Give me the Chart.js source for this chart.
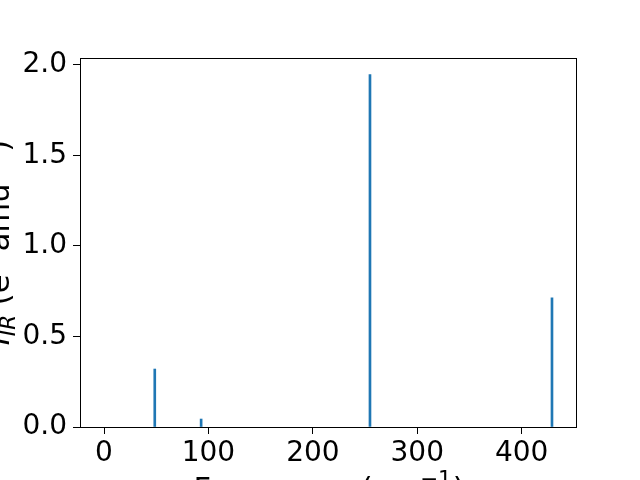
<!DOCTYPE html>
<html><head><meta charset="utf-8">
<script src="https://cdn.jsdelivr.net/npm/chart.js@4/dist/chart.umd.min.js"></script>
<style>html,body{margin:0;padding:0;background:#fff}#wrap{width:640px;height:480px}</style>
</head><body><div id="wrap"><canvas id="c" width="640" height="480"></canvas></div>
<script>
const frequencies = [48.6, 93.0, 254.7, 429.0];
const intensities = [0.32, 0.044, 1.945, 0.713];
const xTicks = [0, 100, 200, 300, 400];
const yTicks = [0.0, 0.5, 1.0, 1.5, 2.0];
const FONT = "'DejaVu Sans', sans-serif";

const framePlugin = {
  id: 'frame',
  afterDraw(chart) {
    const ctx = chart.ctx, a = chart.chartArea;
    ctx.save();
    ctx.strokeStyle = '#000'; ctx.lineWidth = 1;
    ctx.strokeRect(Math.round(a.left) + 0.5, Math.round(a.top) + 0.5, Math.round(a.right - a.left), Math.round(a.bottom - a.top));
    ctx.fillStyle = '#000';
    const big = "30.5px " + FONT, small = "21.5px " + FONT;
    // x label: Frequency (cm^-1)
    const cx = (a.left + a.right) / 2;
    ctx.font = big; const w1 = ctx.measureText("Frequency (cm").width;
    ctx.font = small; const w2 = ctx.measureText("\u22121").width;
    ctx.font = big; const w3 = ctx.measureText(")").width;
    let x0 = cx - (w1 + w2 + w3) / 2, by = 499;
    ctx.textBaseline = 'alphabetic'; ctx.textAlign = 'left';
    ctx.font = big; ctx.fillText("Frequency (cm", x0, by);
    ctx.font = small; ctx.fillText("\u22121", x0 + w1 + 1, by - 13);
    ctx.font = big; ctx.fillText(")", x0 + w1 + w2 + 2, by);
    // y label: I_IR (e^2 amu^-1)
    const cy = (a.top + a.bottom) / 2;
    ctx.translate(9, cy); ctx.rotate(-Math.PI / 2);
    const parts = [
      {t: "I", f: "italic 30.5px " + FONT, dy: 0},
      {t: "IR", f: "italic 21.5px " + FONT, dy: 6},
      {t: " (e", f: big, dy: 0},
      {t: "2", f: small, dy: -13},
      {t: " amu", f: big, dy: 0},
      {t: "\u22121", f: small, dy: -13},
      {t: ")", f: big, dy: 0}
    ];
    let tot = 0;
    parts.forEach(p => { ctx.font = p.f; p.w = ctx.measureText(p.t).width; tot += p.w; });
    let px = -tot / 2;
    parts.forEach(p => { ctx.font = p.f; ctx.fillText(p.t, px, p.dy); px += p.w; });
    ctx.restore();
  }
};

new Chart(document.getElementById('c'), {
  type: 'bar',
  data: {
    datasets: [{
      data: frequencies.map((f, i) => ({x: f, y: intensities[i]})),
      backgroundColor: '#1f77b4',
      borderWidth: 0,
      barThickness: 2
    }]
  },
  options: {
    responsive: false,
    animation: false,
    layout: {padding: {top: 58, right: 64, left: 0, bottom: 0}},
    plugins: {legend: {display: false}, tooltip: {enabled: false}},
    scales: {
      x: {
        type: 'linear', min: -23, max: 452, offset: false,
        afterBuildTicks: s => { s.ticks = xTicks.map(v => ({value: v})); },
        afterFit: s => { s.height = 53; },
        grid: {drawOnChartArea: false, offset: false, tickLength: 7, color: '#000', tickWidth: 1},
        border: {display: true, color: '#000', width: 1},
        ticks: {color: '#000', font: {family: FONT, size: 28}, padding: 3, maxRotation: 0, autoSkip: false}
      },
      y: {
        type: 'linear', min: 0, max: 2.037,
        afterBuildTicks: s => { s.ticks = yTicks.map(v => ({value: v})); },
        afterFit: s => { s.width = 80; },
        grid: {drawOnChartArea: false, tickLength: 7, color: '#000', tickWidth: 1},
        border: {display: true, color: '#000', width: 1},
        ticks: {color: '#000', font: {family: FONT, size: 28}, padding: 6, callback: v => v.toFixed(1)}
      }
    }
  },
  plugins: [framePlugin]
});
</script></body></html>
